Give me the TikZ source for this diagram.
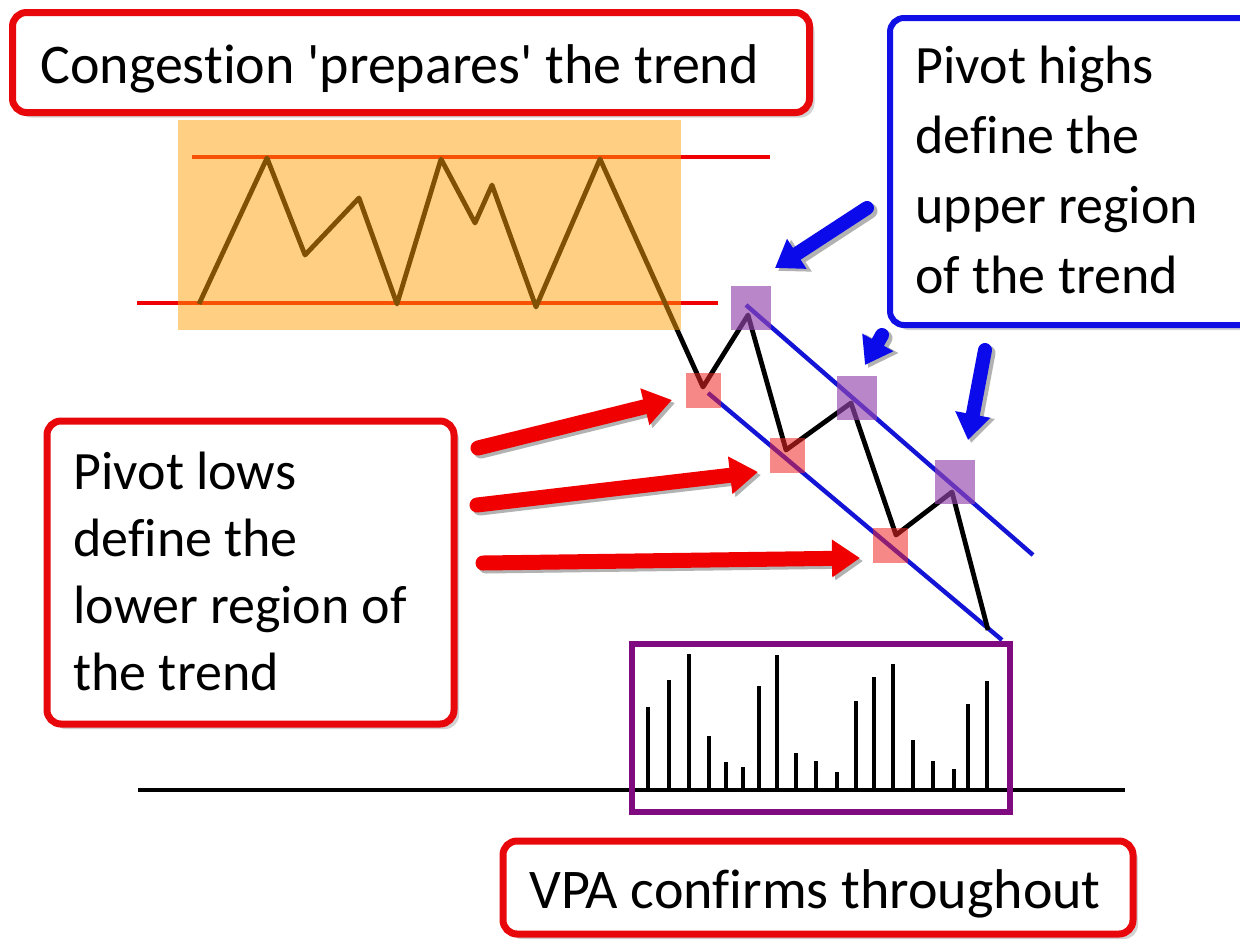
\documentclass[tikz,border=0pt]{standalone}
\usepackage{fontspec}
\setmainfont{Carlito}[Ligatures={NoCommon,NoRare,NoContextual}]
\usetikzlibrary{arrows.meta,shadows}
\definecolor{bxred}{RGB}{232,8,12}
\definecolor{bxblue}{RGB}{16,16,230}
\definecolor{bxpurple}{RGB}{128,10,128}
\definecolor{orng}{RGB}{255,163,10}
\definecolor{pk}{RGB}{240,40,40}
\definecolor{pu}{RGB}{150,70,175}
\definecolor{chblue}{RGB}{20,20,215}
\definecolor{arred}{RGB}{240,0,0}
\definecolor{arblue}{RGB}{10,10,235}
\begin{document}
\begin{tikzpicture}[x=0.5pt,y=-0.5pt,
  box/.style={draw, fill=white, rounded corners=7pt, inner sep=0pt,
    drop shadow={shadow xshift=2.5pt,shadow yshift=-2.5pt,opacity=0.35}},
  redbox/.style={box, draw=bxred, line width=3.5pt},
  bluebox/.style={box, draw=bxblue, line width=3pt},
  lbl/.style={inner sep=0pt, anchor=base west, font=\fontsize{27}{32}\selectfont},
  lblbig/.style={inner sep=0pt, font=\fontsize{28}{34}\selectfont},
  redline/.style={draw=arred, line width=2.2pt},
  chline/.style={draw=chblue, line width=2.2pt},
  trendline/.style={draw=black, line width=2.4pt, line join=round},
  volbar/.style={draw=black, line width=2.4pt},
  pksq/.style={fill=pk, fill opacity=0.55, minimum width=17.5pt, minimum height=17.5pt, inner sep=0pt},
  pusq/.style={fill=pu, fill opacity=0.65, minimum width=20pt, minimum height=22pt, inner sep=0pt},
  fatred/.style={draw=arred, line width=7.5pt, line cap=round, -{Triangle[width=18pt,length=14pt]}},
  fatblue/.style={draw=arblue, line width=7pt, line cap=round, -{Triangle[width=17pt,length=13pt]}},
  fatshadow/.style={draw=black!30, line width=7.5pt, line cap=round, -{Triangle[width=18pt,length=14pt]},
    transform canvas={xshift=1.5pt,yshift=-1.5pt}},
]
\useasboundingbox (0,0) rectangle (1240,942);
\clip (0,0) rectangle (1240,942);
\fill[white] (0,0) rectangle (1240,942);

% congestion zone
\draw[redline] (192,157) -- (770,157);
\draw[redline] (137,303) -- (718,303);
\draw[chline] (746,305) -- (1033,555);
\draw[chline] (708,393) -- (1002,640);
\draw[trendline] (199,304) -- (267,158) -- (305,255) -- (359,198) -- (397,304)
  -- (441,159) -- (475,223) -- (492,185) -- (536,307) -- (600,159)
  -- (703,387) -- (748,315) -- (786,450) -- (851,403) -- (896,535)
  -- (952,492) -- (988,630);
\fill[orng, opacity=0.5] (178,120) rectangle (681,330);

% pivot squares
\node[pusq] (P1) at (751,308) {};
\node[pusq] (P2) at (857,398) {};
\node[pusq] (P3) at (955,482) {};
\node[pksq] (L1) at (703,390) {};
\node[pksq] (L2) at (787,455) {};
\node[pksq] (L3) at (890,545) {};

% volume
\draw[black, line width=1.6pt] (138,790) -- (1125,790);
\foreach \x/\t in {648/707,669/680,689/654,709/736,726/762,743/767,759/686,777/655,
  796/753,816/761,837/772,856/701,874/677,893/664,913/740,933/761,954/769,968/704,987/681}
  \draw[volbar] (\x,790) -- (\x,\t);
\node[draw=bxpurple, line width=3pt, minimum width=189pt, minimum height=84pt, inner sep=0pt] (vol) at (821,728) {};

% boxes
\node[redbox, minimum width=398.5pt, minimum height=50pt] (topbox) at (411,62.5) {};
\node[lblbig, anchor=base west] (toptext) at (40,83) {Congestion \textquotesingle prepares\textquotesingle\ the trend};

\node[bluebox, minimum width=186.5pt, minimum height=153.5pt] (highbox) at (1076.5,171.5) {};
\node[lbl] (h1) at (915,83) {Pivot highs};
\node[lbl] (h2) at (915,153) {define the};
\node[lbl] (h3) at (915,223) {upper region};
\node[lbl] (h4) at (915,293) {of the trend};

\node[redbox, minimum width=203.5pt, minimum height=151.5pt] (lowbox) at (250.5,572.5) {};
\node[lbl] (l1) at (73,489) {Pivot lows};
\node[lbl] (l2) at (73,556) {define the};
\node[lbl] (l3) at (73,623) {lower region of};
\node[lbl] (l4) at (73,690) {the trend};

\node[redbox, minimum width=315pt, minimum height=46.5pt] (vpabox) at (818,887.5) {};
\node[lblbig, anchor=base] (vpatext) at (815,908) {VPA confirms throughout};

% arrows
\coordinate (ra1s) at (478,448); \coordinate (ra1e) at (672,400);
\coordinate (ra2s) at (477,505); \coordinate (ra2e) at (758,472);
\coordinate (ra3s) at (483,563); \coordinate (ra3e) at (860,558);
\coordinate (ba1s) at (867,208); \coordinate (ba1e) at (775,268);
\coordinate (ba2s) at (882,335); \coordinate (ba2e) at (865,365);
\coordinate (ba3s) at (985,350); \coordinate (ba3e) at (968,440);
\foreach \a in {ra1,ra2,ra3,ba1,ba2,ba3}
  \draw[fatshadow] (\a s) -- (\a e);
\draw[fatred] (ra1s) -- (ra1e);
\draw[fatred] (ra2s) -- (ra2e);
\draw[fatred] (ra3s) -- (ra3e);
\draw[fatblue] (ba1s) -- (ba1e);
\draw[fatblue] (ba2s) -- (ba2e);
\draw[fatblue] (ba3s) -- (ba3e);
\end{tikzpicture}
\end{document}
